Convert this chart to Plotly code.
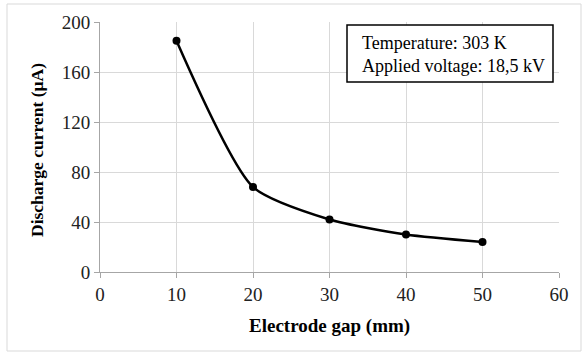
import plotly.graph_objects as go

gap_mm = [10, 20, 30, 40, 50]
current_uA = [185, 68, 42, 30, 24]
x_ticks = [0, 10, 20, 30, 40, 50, 60]
y_ticks = [0, 40, 80, 120, 160, 200]

FONT = "Liberation Serif, Times New Roman, serif"
L, R, T, B = 100, 23, 22, 80
PW, PH = 582 - L - R, 352 - T - B


def px_x(p):
    return (p - L) / PW


def px_y(p):
    return (T + PH - p) / PH


fig = go.Figure()
fig.add_trace(go.Scatter(
    x=gap_mm, y=current_uA, mode="lines+markers",
    line=dict(color="black", width=2.5, shape="spline", smoothing=0.65),
    marker=dict(color="black", size=8),
    showlegend=False,
))

fig.update_layout(
    width=582, height=352,
    margin=dict(l=L, r=R, t=T, b=B),
    paper_bgcolor="white", plot_bgcolor="white",
    font=dict(family=FONT, size=19, color="black"),
    xaxis=dict(
        range=[0, 60], tickvals=x_ticks, showgrid=True, gridcolor="#d9d9d9", gridwidth=1,
        showline=True, linecolor="#a6a6a6", linewidth=1, ticks="outside", ticklen=5,
        tickcolor="#a6a6a6", zeroline=False, automargin=False,
        tickfont=dict(family=FONT, size=19, color="#222"),
    ),
    yaxis=dict(
        range=[0, 200], tickvals=y_ticks, showgrid=True, gridcolor="#d9d9d9", gridwidth=1,
        showline=True, linecolor="#a6a6a6", linewidth=1, ticks="outside", ticklen=5,
        tickcolor="#a6a6a6", zeroline=False, automargin=False,
        tickfont=dict(family=FONT, size=19, color="#222"),
    ),
)

# outer chart border
fig.add_shape(type="rect", xref="paper", yref="paper",
              x0=px_x(7), x1=px_x(581), y0=px_y(351), y1=px_y(4),
              line=dict(color="#d9d9d9", width=1), layer="below")

# info box
fig.add_shape(type="rect", xref="paper", yref="paper",
              x0=px_x(347), x1=px_x(553), y0=px_y(82), y1=px_y(25),
              line=dict(color="black", width=1.5), fillcolor="white", layer="above")
fig.add_annotation(
    xref="paper", yref="paper", x=px_x(360), y=px_y(54),
    xanchor="left", yanchor="middle", align="left", showarrow=False,
    text="Temperature: 303 K<br>Applied voltage: 18,5 kV",
    font=dict(family=FONT, size=18, color="black"),
)

# axis titles
fig.add_annotation(
    xref="paper", yref="paper", x=0.5, y=px_y(326),
    xanchor="center", yanchor="middle", showarrow=False,
    text="<b>Electrode gap (mm)</b>", font=dict(family=FONT, size=19, color="black"),
)
fig.add_annotation(
    xref="paper", yref="paper", x=px_x(37), y=px_y(150),
    xanchor="center", yanchor="middle", showarrow=False, textangle=-90,
    text="<b>Discharge current (µA)</b>", font=dict(family=FONT, size=17.5, color="black"),
)

fig.write_html("out.html")
